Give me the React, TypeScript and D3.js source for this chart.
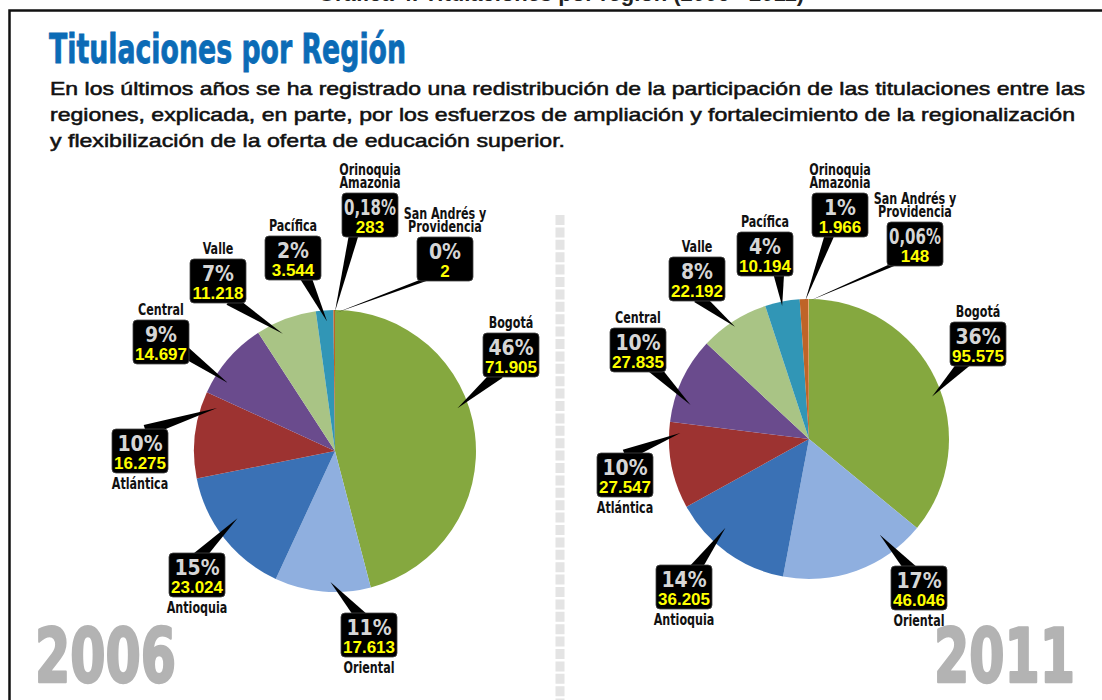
import React from "react";
import * as d3 from "d3";

// ---------- DATA ----------
const regions = [
  "Bogotá",
  "Oriental",
  "Antioquia",
  "Atlántica",
  "Central",
  "Valle",
  "Pacífica",
  "Orinoquia Amazonia",
  "San Andrés y Providencia",
];
const regionLines = [
  ["Bogotá"],
  ["Oriental"],
  ["Antioquia"],
  ["Atlántica"],
  ["Central"],
  ["Valle"],
  ["Pacífica"],
  ["Orinoquia", "Amazonia"],
  ["San Andrés y", "Providencia"],
];
const pct2006 = [46, 11, 15, 10, 9, 7, 2, 0.18, 0];
const titulados2006 = [71905, 17613, 23024, 16275, 14697, 11218, 3544, 283, 2];
const pct2011 = [36, 17, 14, 10, 10, 8, 4, 1, 0.06];
const titulados2011 = [95575, 46046, 36205, 27547, 27835, 22192, 10194, 1966, 148];
const years = ["2006", "2011"];
const colors = [
  "#85a83f",
  "#8fafdf",
  "#3a71b5",
  "#9d3331",
  "#6a4b8d",
  "#a9c485",
  "#3196b6",
  "#bf6428",
  "#f4a862",
];

const topTitle = "Gráfica 4. Titulaciones por región (2006 - 2011)";
const title = "Titulaciones por Región";
const subtitle = [
  "En los últimos años se ha registrado una redistribución de la participación de las titulaciones entre las",
  "regiones, explicada, en parte, por los esfuerzos de ampliación y fortalecimiento de la regionalización",
  "y flexibilización de la oferta de educación superior.",
];

// ---------- LAYOUT ----------
type Callout = {
  cx: number;
  top: number;
  name: "above" | "below";
  tipA: number;
  tipR: number;
  ax: number;
  ay: number;
  hw?: number;
};
const layout2006: Callout[] = [
  { cx: 511, top: 333, name: "above", tipA: 70.7, tipR: 0.92, ax: 0.2, ay: 1 },
  { cx: 369, top: 613, name: "below", tipA: 182, tipR: 0.93, ax: 0.3, ay: 0 },
  { cx: 197, top: 553, name: "below", tipA: 235.4, tipR: 0.84, ax: 0.6, ay: 0 },
  { cx: 140, top: 429, name: "below", tipA: 290, tipR: 0.89, ax: 0.7, ay: 0 },
  { cx: 161, top: 320, name: "above", tipA: 302.4, tipR: 0.9, ax: 1, ay: 0.8 },
  { cx: 218, top: 259, name: "above", tipA: 336, tipR: 0.91, ax: 0.8, ay: 1 },
  { cx: 293, top: 236, name: "above", tipA: 356.5, tipR: 0.92, ax: 0.75, ay: 1 },
  { cx: 370, top: 193, name: "above", tipA: 0, tipR: 0.99, ax: 0.2, ay: 1, hw: 5 },
  { cx: 445, top: 237, name: "above", tipA: 0.5, tipR: 0.98, ax: 0.08, ay: 1, hw: 1.8 },
];
const layout2011: Callout[] = [
  { cx: 978, top: 322, name: "above", tipA: 71, tipR: 0.93, ax: 0.2, ay: 1 },
  { cx: 919, top: 566, name: "below", tipA: 143.5, tipR: 0.85, ax: 0.3, ay: 0 },
  { cx: 684, top: 565, name: "below", tipA: 223.3, tipR: 0.87, ax: 0.75, ay: 0 },
  { cx: 625, top: 453, name: "below", tipA: 272.7, tipR: 0.92, ax: 0.6, ay: 0 },
  { cx: 638, top: 328, name: "above", tipA: 286, tipR: 0.88, ax: 0.85, ay: 1 },
  { cx: 697, top: 257, name: "above", tipA: 326.6, tipR: 0.96, ax: 0.6, ay: 1 },
  { cx: 765, top: 232, name: "above", tipA: 348.6, tipR: 0.97, ax: 0.75, ay: 1 },
  { cx: 840, top: 193, name: "above", tipA: 358.5, tipR: 0.99, ax: 0.3, ay: 1, hw: 5 },
  { cx: 915, top: 222, name: "above", tipA: 0.5, tipR: 0.99, ax: 0.05, ay: 1, hw: 1.8 },
];

const W = 1102;
const H = 700;
const NARROW = "'DejaVu Sans', sans-serif";
const NARROW_STYLE: React.CSSProperties = { fontStretch: "condensed" };
const SANS = "'Liberation Sans', Arial, sans-serif";
const BOX_W = 56;
const BOX_H = 44;

const locale = d3.formatLocale({
  decimal: ",",
  thousands: ".",
  grouping: [3],
  currency: ["", ""],
});
const fmtInt = locale.format(",d");
const fmtPct = (v: number) =>
  (Number.isInteger(v) ? String(v) : locale.format(".2f")(v)) + "%";

function Pie(props: {
  cx: number;
  cy: number;
  r: number;
  pct: number[];
  counts: number[];
  layout: Callout[];
}) {
  const { cx, cy, r, pct, counts, layout } = props;
  const pie = d3.pie<number>().sort(null).value((d) => d);
  const arcs = pie(pct);
  const arc = d3.arc<d3.PieArcDatum<number>>().innerRadius(0).outerRadius(r);
  const rad = (deg: number) => (deg * Math.PI) / 180;

  const pointers = layout.map((c, i) => {
    const a = rad(c.tipA);
    const tx = cx + c.tipR * r * Math.sin(a);
    const ty = cy - c.tipR * r * Math.cos(a);
    const left = c.cx - BOX_W / 2;
    let bx = left + c.ax * BOX_W;
    let by = c.top + c.ay * BOX_H;
    const dx = tx - bx;
    const dy = ty - by;
    const len = Math.hypot(dx, dy);
    const ux = dx / len;
    const uy = dy / len;
    bx -= ux * 6;
    by -= uy * 6;
    const hw = c.hw ?? 6;
    const nx = -uy * hw;
    const ny = ux * hw;
    const pts = [
      [bx + nx, by + ny],
      [bx - nx, by - ny],
      [tx, ty],
    ];
    return <polygon key={"p" + i} points={pts.map((p) => p.join(",")).join(" ")} fill="#000" />;
  });

  const boxes = layout.map((c, i) => {
    const left = c.cx - BOX_W / 2;
    const lines = regionLines[i];
    const pctLabel = fmtPct(pct[i]);
    const nameY = (k: number) =>
      c.name === "above"
        ? c.top - 5 - (lines.length - 1 - k) * 13.5
        : c.top + BOX_H + 16 + k * 13.5;
    return (
      <g key={"b" + i}>
        <rect
          x={left}
          y={c.top}
          width={BOX_W}
          height={BOX_H}
          rx={4}
          fill="#000"
          stroke="#444"
          strokeWidth={0.8}
        />
        <text
          x={c.cx}
          y={c.top + 22}
          textAnchor="middle"
          fontFamily={NARROW}
          style={NARROW_STYLE}
          fontWeight="bold"
          fontSize={21}
          fill="#d6d6d6"
          {...(pctLabel.length >= 5 ? { textLength: 52, lengthAdjust: "spacingAndGlyphs" } : {})}
        >
          {pctLabel}
        </text>
        <text
          x={c.cx}
          y={c.top + 40}
          textAnchor="middle"
          fontFamily={SANS}
          fontWeight="bold"
          fontSize={17}
          fill="#ffff00"
        >
          {fmtInt(counts[i])}
        </text>
        {lines.map((l, k) => (
          <text
            key={k}
            transform={`translate(${c.cx},${nameY(k)}) scale(0.8,1)`}
            textAnchor="middle"
            fontFamily={NARROW}
            style={NARROW_STYLE}
            fontWeight="bold"
            fontSize={15.5}
            fill="#111"
          >
            {l}
          </text>
        ))}
      </g>
    );
  });

  return (
    <g>
      <g transform={`translate(${cx},${cy})`}>
        {arcs.map((a, i) =>
          a.value > 0 ? <path key={regions[i]} d={arc(a) || ""} fill={colors[i]} /> : null
        )}
      </g>
      {pointers}
      {boxes}
    </g>
  );
}

export default function App() {
  return (
    <svg
      width={W}
      height={H}
      viewBox={`0 0 ${W} ${H}`}
      style={{ position: "absolute", left: 0, top: 0, background: "#fff" }}
    >
      <rect x={0} y={0} width={W} height={H} fill="#fff" />
      {/* clipped top caption */}
      <text
        x={561}
        y={1}
        textAnchor="middle"
        fontFamily={SANS}
        fontWeight="bold"
        fontSize={22}
        fill="#222"
      >
        {topTitle}
      </text>
      {/* frame */}
      <path d={`M9.5,${H} V10.5 H${W}`} fill="none" stroke="#111" strokeWidth={2.5} />

      {/* title */}
      <text
        x={49}
        y={63}
        fontFamily={NARROW}
        style={NARROW_STYLE}
        fontWeight="bold"
        fontSize={41}
        fill="#0b6bb6"
        stroke="#0b6bb6"
        strokeWidth={0.8}
        textLength={357}
        lengthAdjust="spacingAndGlyphs"
      >
        {title}
      </text>
      {subtitle.map((s, i) => (
        <text
          key={i}
          x={50}
          y={95 + i * 26}
          fontFamily={SANS}
          fontSize={19}
          fill="#111"
          stroke="#111"
          strokeWidth={0.55}
          textLength={[1035, 1025, 515][i]}
          lengthAdjust="spacingAndGlyphs"
        >
          {s}
        </text>
      ))}

      {/* dashed separator */}
      <line
        x1={560}
        x2={560}
        y1={215}
        y2={H}
        stroke="#e4e4e4"
        strokeWidth={9}
        strokeDasharray="10 2.4"
      />

      <Pie cx={335} cy={451} r={141} pct={pct2006} counts={titulados2006} layout={layout2006} />
      <Pie cx={809} cy={439} r={140} pct={pct2011} counts={titulados2011} layout={layout2011} />

      {/* years */}
      {years.map((y, i) => (
        <text
          key={y}
          x={i === 0 ? 35 : 934}
          y={682}
          fontFamily={NARROW}
          style={NARROW_STYLE}
          fontWeight="bold"
          fontSize={75}
          fill="#b3b3b3"
          stroke="#b3b3b3"
          strokeWidth={2.5}
          strokeLinejoin="round"
          textLength={141}
          lengthAdjust="spacingAndGlyphs"
        >
          {y}
        </text>
      ))}
    </svg>
  );
}
